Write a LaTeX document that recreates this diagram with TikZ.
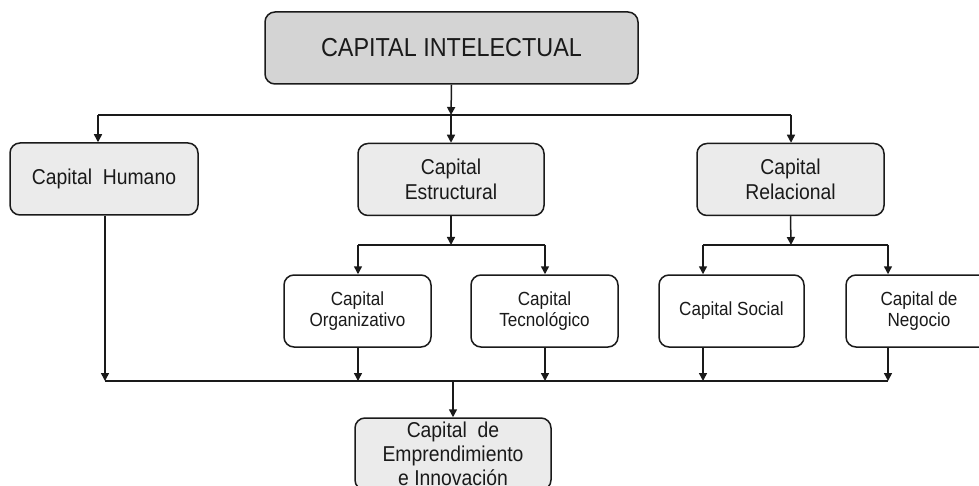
\documentclass[tikz,border=0pt]{standalone}
\usepackage{fontspec}
\setmainfont[FakeStretch=0.9]{Liberation Sans}
\usetikzlibrary{arrows.meta}
\definecolor{topfill}{HTML}{D4D4D4}
\definecolor{midfill}{HTML}{EBEBEB}
\definecolor{ink}{HTML}{1A1A1A}
\tikzset{
  box/.style={draw=ink, line width=1.5pt, rounded corners=10pt, align=center, text=ink,
    inner sep=0pt, minimum height=72pt},
  topbox/.style={box, fill=topfill, minimum width=373pt, font=\fontsize{26}{30}\selectfont},
  midbox/.style={box, fill=midfill, minimum width=187pt, font=\fontsize{21.5}{25}\selectfont},
  lowbox/.style={box, fill=white, minimum width=147pt, font=\fontsize{19}{21.5}\selectfont},
  botbox/.style={box, fill=midfill, minimum width=196pt, font=\fontsize{21.5}{24}\selectfont},
  conn/.style={draw=ink, line width=1.5pt},
  arr/.style={conn, -{Triangle[length=8pt,width=8pt]}},
}
\begin{document}
\begin{tikzpicture}[x=1pt,y=-1pt]
\useasboundingbox (0,0) rectangle (979,486);
\clip (0,0) rectangle (979,486);
% nodes
\node[topbox] (ci) at (451.5,48) {CAPITAL INTELECTUAL};
\node[midbox, minimum width=188pt] (ch) at (104,179) {Capital\enspace Humano};
\node[midbox, minimum width=186pt] (ce) at (451,179.5) {Capital\\Estructural};
\node[midbox] (cr) at (790.5,179.5) {Capital\\Relacional};
\node[lowbox] (co) at (357.5,311) {Capital\\Organizativo};
\node[lowbox] (ct) at (544.5,311) {Capital\\Tecnológico};
\node[lowbox, minimum width=145pt] (cs) at (731.5,311) {Capital Social};
\node[lowbox, minimum width=146pt] (cn) at (919,311) {Capital de\\Negocio};
\node[botbox] (cei) at (453,454) {Capital\enspace de\\Emprendimiento\\e Innovación};
% junction coordinates
\coordinate (j1) at (451,115);
\coordinate (j1l) at (98,115);
\coordinate (j1r) at (791,115);
\coordinate (j2) at (451,245);
\coordinate (j2l) at (358,245);
\coordinate (j2r) at (545,245);
\coordinate (j3) at (791,245);
\coordinate (j3l) at (703,245);
\coordinate (j3r) at (888,245);
\coordinate (bl) at (105,381);
\coordinate (br) at (888,381);
\coordinate (bc) at (453,381);
% level 1
\draw[arr] (ci.south) -- (j1);
\draw[conn] (j1l) -- (j1r);
\draw[arr] (j1l) -- (j1l |- ch.north);
\draw[arr] (j1) -- (ce.north);
\draw[arr] (j1r) -- (j1r |- cr.north);
% level 2
\draw[arr] (ce.south) -- (j2);
\draw[conn] (j2l) -- (j2r);
\draw[arr] (j2l) -- (j2l |- co.north);
\draw[arr] (j2r) -- (j2r |- ct.north);
\draw[arr] (cr.south) -- (j3);
\draw[conn] (j3l) -- (j3r);
\draw[arr] (j3l) -- (j3l |- cs.north);
\draw[arr] (j3r) -- (j3r |- cn.north);
% bottom collector
\draw[arr] (bl |- ch.south) -- (bl);
\draw[conn] (bl) -- (br);
\draw[arr] (j2l |- co.south) -- (j2l |- bl);
\draw[arr] (j2r |- ct.south) -- (j2r |- bl);
\draw[arr] (j3l |- cs.south) -- (j3l |- bl);
\draw[arr] (j3r |- cn.south) -- (br);
\draw[arr] (bc) -- (cei.north);
\end{tikzpicture}
\end{document}
